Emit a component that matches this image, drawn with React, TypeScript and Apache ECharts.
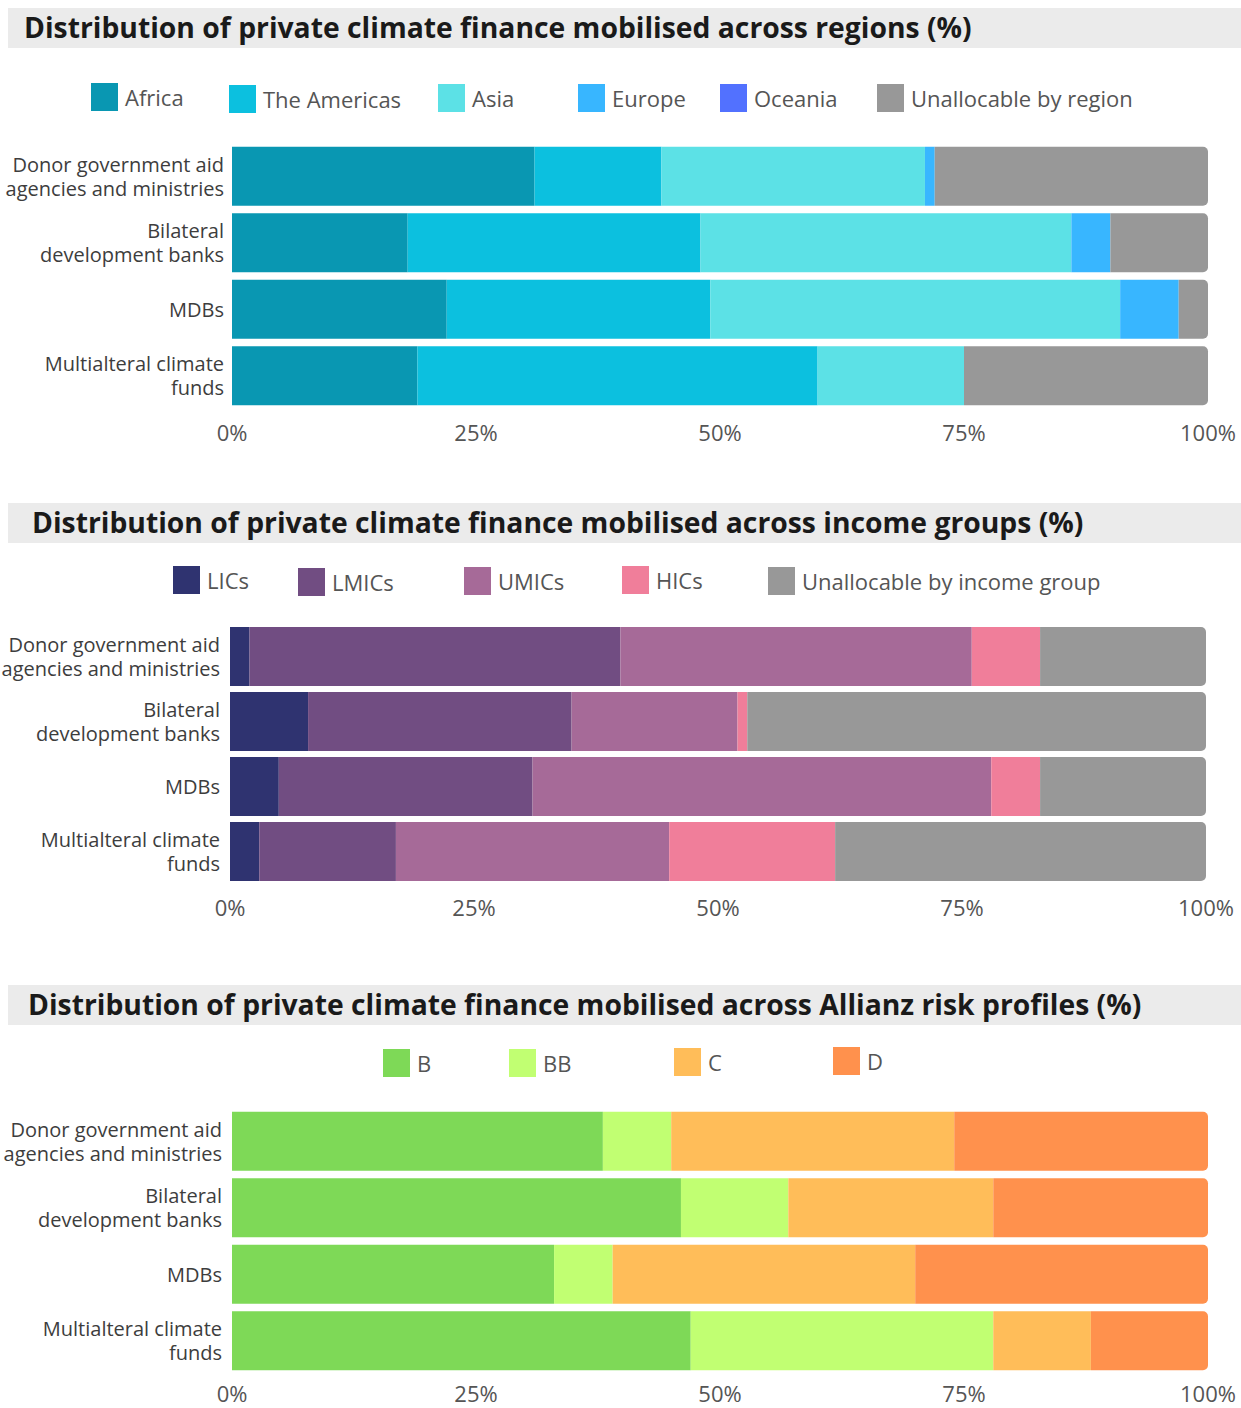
import React, { useEffect, useRef } from "react";
import * as echarts from "echarts";

const categories = [
  "Donor government aid\nagencies and ministries",
  "Bilateral\ndevelopment banks",
  "MDBs",
  "Multialteral climate\nfunds",
];

const xTicks = [0, 25, 50, 75, 100];

// Chart 1: regions
const regionNames = ["Africa", "The Americas", "Asia", "Europe", "Oceania", "Unallocable by region"];
const africa = [31, 18, 22, 19];
const americas = [13, 30, 27, 41];
const asia = [27, 38, 42, 15];
const europe = [1, 4, 6, 0];
const oceania = [0, 0, 0, 0];
const unallocRegion = [28, 10, 3, 25];
const regionColors = ["#0997b2", "#0cc0df", "#5ce1e6", "#38b6ff", "#5271ff", "#989898"];

// Chart 2: income groups
const incomeNames = ["LICs", "LMICs", "UMICs", "HICs", "Unallocable by income group"];
const lics = [2, 8, 5, 3];
const lmics = [38, 27, 26, 14];
const umics = [36, 17, 47, 28];
const hics = [7, 1, 5, 17];
const unallocIncome = [17, 47, 17, 38];
const incomeColors = ["#2f3370", "#714d82", "#a66a98", "#f07e9a", "#989898"];

// Chart 3: Allianz risk profiles
const riskNames = ["B", "BB", "C", "D"];
const riskB = [38, 46, 33, 47];
const riskBB = [7, 11, 6, 31];
const riskC = [29, 21, 31, 10];
const riskD = [26, 22, 30, 12];
const riskColors = ["#7ed957", "#c1ff72", "#ffbd59", "#ff914d"];

const titles = [
  "Distribution of private climate finance mobilised across regions (%)",
  "Distribution of private climate finance mobilised across income groups (%)",
  "Distribution of private climate finance mobilised across Allianz risk profiles (%)",
];

const FONT = "'Open Sans', 'Noto Sans', sans-serif";

export default function App() {
  const ref = useRef<HTMLDivElement>(null);

  useEffect(() => {
    if (!ref.current) return;
    const chart = echarts.init(ref.current, null, { renderer: "svg" });

    const grids = [
      { left: 232, width: 976, top: 143, height: 266, containLabel: false, outerBoundsMode: "none" },
      { left: 230, width: 976, top: 624, height: 260, containLabel: false, outerBoundsMode: "none" },
      { left: 232, width: 976, top: 1108, height: 266, containLabel: false, outerBoundsMode: "none" },
    ];

    const bands = [8, 503, 985];
    const titleLefts = [24, 32, 28];
    const xLabelMargins = [12, 12, 9];

    const xAxes = grids.map((_, i) => ({
      type: "value",
      gridIndex: i,
      min: xTicks[0],
      max: xTicks[xTicks.length - 1],
      interval: 25,
      axisLine: { show: false },
      axisTick: { show: false },
      splitLine: { show: false },
      axisLabel: {
        formatter: "{value}%",
        fontFamily: FONT,
        fontSize: 22,
        lineHeight: i === 2 ? 20 : 22,
        color: "#555555",
        margin: xLabelMargins[i],
      },
    }));

    const yAxes = grids.map((_, i) => ({
      type: "category",
      gridIndex: i,
      data: categories,
      inverse: true,
      axisLine: { show: false },
      axisTick: { show: false },
      splitLine: { show: false },
      axisLabel: {
        fontFamily: FONT,
        fontSize: 20,
        lineHeight: 24,
        color: "#3d3d3d",
        align: "right",
        margin: i === 0 ? 8 : 10,
      },
    }));

    const makeSeries = (
      names: string[],
      values: number[][],
      colors: string[],
      idx: number
    ) =>
      names.map((name, k) => ({
        name,
        type: "bar",
        stack: "s" + idx,
        xAxisIndex: idx,
        yAxisIndex: idx,
        barWidth: 59,
        data: values[k],
        itemStyle: {
          color: colors[k],
          borderRadius: k === names.length - 1 ? [0, 5, 5, 0] : 0,
        },
        emphasis: { disabled: true },
      }));

    const series = [
      ...makeSeries(regionNames, [africa, americas, asia, europe, oceania, unallocRegion], regionColors, 0),
      ...makeSeries(incomeNames, [lics, lmics, umics, hics, unallocIncome], incomeColors, 1),
      ...makeSeries(riskNames, [riskB, riskBB, riskC, riskD], riskColors, 2),
    ];

    const legendPos: { name: string; left: number; top: number }[] = [
      { name: regionNames[0], left: 91, top: 83 },
      { name: regionNames[1], left: 229, top: 85 },
      { name: regionNames[2], left: 438, top: 84 },
      { name: regionNames[3], left: 578, top: 84 },
      { name: regionNames[4], left: 720, top: 84 },
      { name: regionNames[5], left: 877, top: 84 },
      { name: incomeNames[0], left: 173, top: 566 },
      { name: incomeNames[1], left: 298, top: 568 },
      { name: incomeNames[2], left: 464, top: 567 },
      { name: incomeNames[3], left: 622, top: 566 },
      { name: incomeNames[4], left: 768, top: 567 },
      { name: riskNames[0], left: 383, top: 1049 },
      { name: riskNames[1], left: 509, top: 1049 },
      { name: riskNames[2], left: 674, top: 1048 },
      { name: riskNames[3], left: 833, top: 1047 },
    ];

    const legends = legendPos.map((l) => ({
      data: [l.name],
      left: l.left,
      top: l.top,
      padding: 0,
      itemWidth: 27,
      itemHeight: 28,
      icon: "rect",
      selectedMode: false,
      textStyle: {
        fontFamily: FONT,
        fontSize: 22,
        color: "#555555",
        padding: [0, 0, 0, 2],
      },
    }));

    chart.setOption({
      animation: false,
      backgroundColor: "#ffffff",
      title: titles.map((t, i) => ({
        text: t,
        left: titleLefts[i],
        top: bands[i] + 1,
        padding: 0,
        textStyle: {
          fontFamily: FONT,
          fontWeight: "bold",
          fontSize: 28.3,
          lineHeight: 36,
          color: "#1a1a1a",
        },
      })),
      graphic: bands.map((y) => ({
        type: "rect",
        shape: { x: 8, y, width: 1233, height: 40 },
        style: { fill: "#ebebeb" },
        z: -10,
        silent: true,
      })),
      legend: legends,
      grid: grids,
      xAxis: xAxes,
      yAxis: yAxes,
      series,
    });

    return () => chart.dispose();
  }, []);

  return (
    <div
      ref={ref}
      style={{ position: "absolute", left: 0, top: 0, width: 1241, height: 1408 }}
    />
  );
}
